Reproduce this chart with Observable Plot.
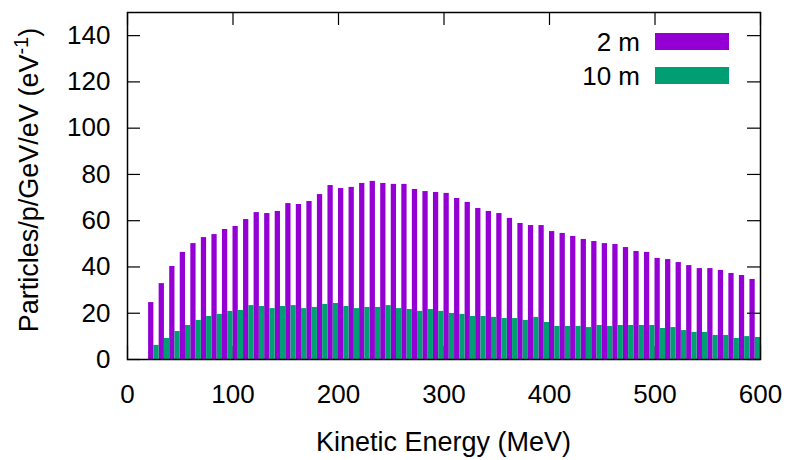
<!DOCTYPE html>
<html><head><meta charset="utf-8">
<script src="https://cdn.jsdelivr.net/npm/d3@7"></script>
<script src="https://cdn.jsdelivr.net/npm/@observablehq/plot@0.6"></script>
<style>html,body{margin:0;padding:0;background:#fff}</style>
</head><body><div id="chart"></div>
<script>
const energy = [25,35,45,55,65,75,85,95,105,115,125,135,145,155,165,175,185,195,205,215,225,235,245,255,265,275,285,295,305,315,325,335,345,355,365,375,385,395,405,415,425,435,445,455,465,475,485,495,505,515,525,535,545,555,565,575,585,595];
const twoMeter = [24.6,32.8,40.2,46.3,50.1,52.7,54.0,56.2,57.5,60.5,63.5,63.1,64.0,67.4,67.0,68.3,71.3,75.2,73.9,74.4,76.1,77.0,76.1,75.7,75.7,73.5,72.6,72.2,71.8,69.6,67.9,65.3,64.0,63.1,61.0,58.8,57.9,57.9,55.3,54.5,53.2,51.9,51.0,50.1,49.7,48.4,46.7,46.3,43.7,43.2,41.9,40.6,39.3,39.3,38.5,37.2,36.3,34.6];
const tenMeter = [6.1,9.1,12.1,14.7,16.9,18.6,19.5,20.8,21.2,23.3,22.9,22.0,22.9,23.3,22.0,22.5,23.8,24.2,22.9,22.0,22.5,22.5,23.3,22.0,21.6,20.8,21.6,20.8,19.9,19.5,18.6,18.6,18.2,17.7,17.7,16.9,18.2,16.0,14.3,14.3,14.3,13.8,14.7,14.3,14.7,14.7,14.7,14.7,13.4,13.8,12.5,11.7,11.7,10.4,10.4,9.1,9.9,9.5];
const xTicks = [0,100,200,300,400,500,600];
const yTicks = [0,20,40,60,80,100,120,140];
const seriesNames = ["2 m", "10 m"];
const seriesColors = ["#9400D3", "#009E73"];
const halfBin = 5;

const rows2 = energy.map((e, i) => ({e, v: twoMeter[i]}));
const rows10 = energy.map((e, i) => ({e, v: tenMeter[i]}));

const W = 788, H = 460, mL = 127, mR = 28, mT = 12, mB = 101;
const tick = 13;

const chart = Plot.plot({
  width: W, height: H,
  marginLeft: mL, marginRight: mR, marginTop: mT, marginBottom: mB,
  style: {fontFamily: "'Liberation Sans', Arial, Helvetica, sans-serif", fontSize: "26px", color: "black", background: "white", overflow: "visible"},
  x: {domain: [0, 600]},
  y: {domain: [0, 150]},
  marks: [
    Plot.ruleX(xTicks, {x: d => d, insetTop: (H - mT - mB) - tick, stroke: "black", strokeWidth: 1.2}),
    Plot.rect(rows2, {x1: d => d.e - halfBin, x2: d => d.e, y1: 0, y2: "v", fill: seriesColors[0]}),
    Plot.rect(rows10, {x1: d => d.e, x2: d => d.e + halfBin, y1: 0, y2: "v", fill: seriesColors[1]}),
    Plot.ruleY(yTicks, {y: d => d, insetRight: (W - mL - mR) - tick, stroke: "black", strokeWidth: 1.2}),
    Plot.ruleY(yTicks, {y: d => d, insetLeft: (W - mL - mR) - tick, stroke: "black", strokeWidth: 1.2}),
    Plot.ruleX(xTicks, {x: d => d, insetBottom: (H - mT - mB) - tick, stroke: "black", strokeWidth: 1.2}),
    Plot.frame({stroke: "black", strokeWidth: 1.5}),
    Plot.axisX(xTicks, {tickSize: 0, tickPadding: 25, label: null, fontSize: 26}),
    Plot.axisY(yTicks, {tickSize: 0, tickPadding: 17, label: null, fontSize: 26})
  ]
});
document.getElementById("chart").appendChild(chart);

const svg = d3.select(chart);
const font = "'Liberation Sans', Arial, Helvetica, sans-serif";

// x axis title
svg.append("text")
  .attr("x", (mL + W - mR) / 2).attr("y", 451)
  .attr("text-anchor", "middle")
  .attr("font-family", font).attr("font-size", 27).attr("fill", "black")
  .text("Kinetic Energy (MeV)");

// y axis title with superscript
const yl = svg.append("text")
  .attr("transform", "translate(38,180) rotate(-90)")
  .attr("text-anchor", "middle")
  .attr("font-family", font).attr("font-size", 27).attr("fill", "black");
yl.append("tspan").text("Particles/p/GeV/eV (eV");
yl.append("tspan").attr("font-size", 20).attr("dy", -10).text("-1");
yl.append("tspan").attr("dy", 10).text(")");

// legend
seriesNames.forEach((name, i) => {
  const cy = 41.5 + 34 * i;
  svg.append("text")
    .attr("x", 640).attr("y", cy).attr("dy", "0.36em")
    .attr("text-anchor", "end")
    .attr("font-family", font).attr("font-size", 26).attr("fill", "black")
    .text(name);
  svg.append("rect")
    .attr("x", 655).attr("y", cy - 8.5).attr("width", 74).attr("height", 17)
    .attr("fill", seriesColors[i]);
});
</script>
</body></html>
